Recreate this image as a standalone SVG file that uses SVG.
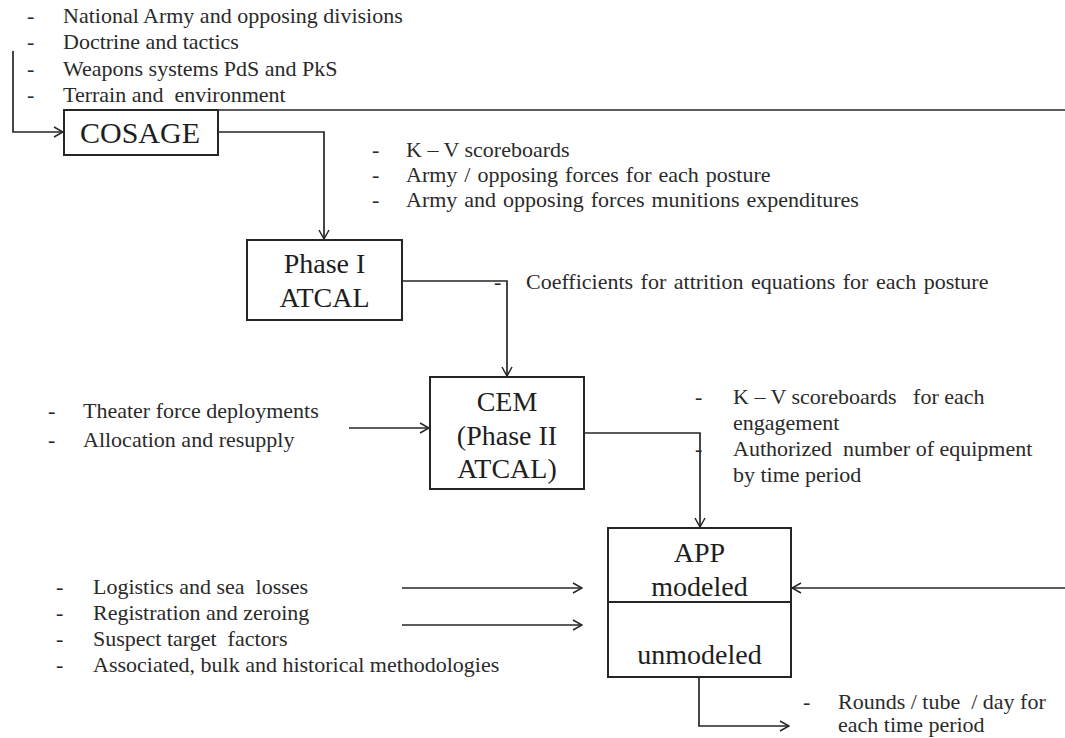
<svg xmlns="http://www.w3.org/2000/svg" width="1065" height="738" viewBox="0 0 1065 738">
<style>
  .box { fill: #fff; stroke: #262626; stroke-width: 2; }
  .ln { fill: none; stroke: #262626; stroke-width: 1.7; }
  .bt { font-family: "Liberation Serif", "Times New Roman", serif; font-size: 28px; fill: #1e1e1e; text-anchor: middle; }
  .lt { font-family: "Liberation Serif", "Times New Roman", serif; font-size: 22px; fill: #2a2a2a; white-space: pre; }
</style>
<defs>
  <marker id="arr" viewBox="0 0 12 12" refX="11" refY="6" markerWidth="12" markerHeight="12" markerUnits="userSpaceOnUse" orient="auto">
    <path d="M2,1 L11,6 L2,11" fill="none" stroke="#262626" stroke-width="1.5"/>
  </marker>
</defs>
<rect width="1065" height="738" fill="#fff"/>

<g id="connectors">
  <path class="ln" d="M13,51 V132 H63" marker-end="url(#arr)"/>
  <path class="ln" d="M218,110 H1065"/>
  <path class="ln" d="M218,132 H324 V239" marker-end="url(#arr)"/>
  <path class="ln" d="M402,281 H507 V376" marker-end="url(#arr)"/>
  <path class="ln" d="M349,428 H429" marker-end="url(#arr)"/>
  <path class="ln" d="M584,433 H700 V527" marker-end="url(#arr)"/>
  <path class="ln" d="M402,588 H582" marker-end="url(#arr)"/>
  <path class="ln" d="M402,625 H582" marker-end="url(#arr)"/>
  <path class="ln" d="M1065,588 H792" marker-end="url(#arr)"/>
  <path class="ln" d="M699,677 V726 H789" marker-end="url(#arr)"/>
</g>

<g id="inputs-top">
  <text class="lt" x="27" y="23">-</text><text class="lt" x="63" y="23">National Army and opposing divisions</text>
  <text class="lt" x="27" y="49">-</text><text class="lt" x="63" y="49">Doctrine and tactics</text>
  <text class="lt" x="27" y="76">-</text><text class="lt" x="63" y="76">Weapons systems PdS and PkS</text>
  <text class="lt" x="27" y="102">-</text><text class="lt" x="63" y="102">Terrain and  environment</text>
</g>

<g id="cosage">
  <rect class="box" x="64" y="110" width="154" height="45"/>
  <text class="bt" x="140" y="143" style="font-size:30px">COSAGE</text>
</g>

<g id="cosage-outputs">
  <text class="lt" x="372" y="157">-</text><text class="lt" x="406" y="157">K – V scoreboards</text>
  <text class="lt" x="372" y="182">-</text><text class="lt" x="406" y="182" word-spacing="1.5">Army / opposing forces for each posture</text>
  <text class="lt" x="372" y="207">-</text><text class="lt" x="406" y="207" word-spacing="1.5">Army and opposing forces munitions expenditures</text>
</g>

<g id="phase1">
  <rect class="box" x="247" y="240" width="155" height="80"/>
  <text class="bt" x="324.5" y="273">Phase I</text>
  <text class="bt" x="324.5" y="307">ATCAL</text>
</g>

<g id="phase1-outputs">
  <text class="lt" x="494" y="289">-</text><text class="lt" x="526" y="289" word-spacing="2">Coefficients for attrition equations for each posture</text>
</g>

<g id="cem-inputs">
  <text class="lt" x="48" y="418">-</text><text class="lt" x="83" y="418">Theater force deployments</text>
  <text class="lt" x="48" y="447">-</text><text class="lt" x="83" y="447">Allocation and resupply</text>
</g>

<g id="cem">
  <rect class="box" x="430" y="377" width="154" height="112"/>
  <text class="bt" x="507" y="411">CEM</text>
  <text class="bt" x="507" y="445">(Phase II</text>
  <text class="bt" x="507" y="478">ATCAL)</text>
</g>

<g id="cem-outputs">
  <text class="lt" x="695" y="404">-</text><text class="lt" x="733" y="404">K – V scoreboards   for each</text>
  <text class="lt" x="733" y="430">engagement</text>
  <text class="lt" x="695" y="456">-</text><text class="lt" x="733" y="456">Authorized  number of equipment</text>
  <text class="lt" x="733" y="482">by time period</text>
</g>

<g id="app-inputs">
  <text class="lt" x="56" y="594">-</text><text class="lt" x="93" y="594">Logistics and sea  losses</text>
  <text class="lt" x="56" y="620">-</text><text class="lt" x="93" y="620">Registration and zeroing</text>
  <text class="lt" x="56" y="646">-</text><text class="lt" x="93" y="646">Suspect target  factors</text>
  <text class="lt" x="56" y="672">-</text><text class="lt" x="93" y="672">Associated, bulk and historical methodologies</text>
</g>

<g id="app">
  <rect class="box" x="608" y="528" width="183" height="149"/>
  <line class="ln" x1="608" y1="602" x2="791" y2="602" style="stroke-width:2"/>
  <text class="bt" x="699.5" y="562">APP</text>
  <text class="bt" x="699.5" y="596">modeled</text>
  <text class="bt" x="699.5" y="664">unmodeled</text>
</g>

<g id="app-outputs">
  <text class="lt" x="803" y="709">-</text><text class="lt" x="838" y="709">Rounds / tube  / day for</text>
  <text class="lt" x="838" y="732">each time period</text>
</g>
</svg>
